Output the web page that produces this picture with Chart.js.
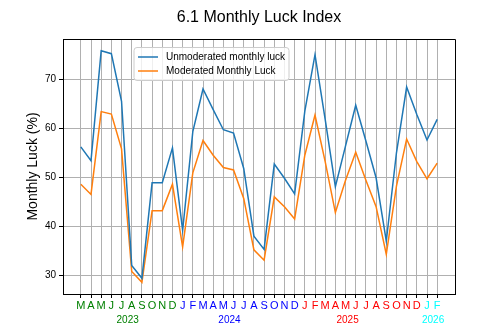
<!DOCTYPE html>
<html>
<head>
<meta charset="utf-8">
<script src="https://cdn.jsdelivr.net/npm/chart.js@4.4.1/dist/chart.umd.min.js"></script>
<style>
  html, body { margin: 0; padding: 0; background: #fff; }
</style>
</head>
<body>
<canvas id="luckChart" width="504" height="336"></canvas>
<script>
// Month initials, Mar 2023 .. Feb 2026
const monthLetters = ['M', 'A', 'M', 'J', 'J', 'A', 'S', 'O', 'N', 'D',
  'J', 'F', 'M', 'A', 'M', 'J', 'J', 'A', 'S', 'O', 'N', 'D',
  'J', 'F', 'M', 'A', 'M', 'J', 'J', 'A', 'S', 'O', 'N', 'D',
  'J', 'F'];
const yearNames = ['2023', '2024', '2025', '2026'];
const yearMonthCounts = [10, 12, 12, 2];
const yearColors = ['#008000', '#0000ff', '#ff0000', '#00ffff'];
// month index under which each year caption sits
const yearLabelAt = [4.6, 14.6, 26.2, 34.6];

const unmoderated = [56.2, 53.4, 75.8, 75.2, 65.5, 32.0, 29.4, 48.9, 48.9, 56.0,
  39.2, 59.3, 68.0, 63.8, 59.7, 59.0, 51.8, 38.0, 35.3, 52.7, 49.8, 46.6,
  63.5, 75.0, 61.8, 48.1, 56.4, 64.7, 57.4, 49.9, 37.0, 55.0, 68.4, 62.8,
  57.6, 61.8];
const moderated = [48.6, 46.5, 63.4, 62.9, 55.8, 30.8, 28.6, 43.2, 43.2, 48.6,
  35.8, 50.9, 57.5, 54.5, 52.0, 51.5, 45.7, 35.2, 33.1, 46.0, 44.0, 41.5,
  54.5, 62.7, 53.2, 42.8, 49.4, 55.1, 49.4, 44.0, 34.3, 48.2, 57.8, 53.2,
  49.7, 52.9];

const yTicks = [30, 40, 50, 60, 70];

const monthColors = [];
yearMonthCounts.forEach((n, k) => {
  for (let i = 0; i < n; i++) monthColors.push(yearColors[k]);
});

const FONT = '"Liberation Sans", Arial, Helvetica, sans-serif';
Chart.defaults.font.family = FONT;
Chart.defaults.color = '#000';

// closes the frame on top and right, like a boxed axes
const framePlugin = {
  id: 'frame',
  afterDraw(chart) {
    const { ctx, chartArea: a } = chart;
    ctx.save();
    ctx.strokeStyle = '#000';
    ctx.lineWidth = 1;
    ctx.beginPath();
    ctx.moveTo(a.left, a.top + 0.5);
    ctx.lineTo(a.right + 0.5, a.top + 0.5);
    ctx.lineTo(a.right + 0.5, a.bottom);
    ctx.stroke();
    ctx.restore();
  }
};

// year captions under the month letters
const yearPlugin = {
  id: 'years',
  afterDraw(chart) {
    const { ctx } = chart;
    const xs = chart.scales.x;
    ctx.save();
    ctx.font = '10px ' + FONT;
    ctx.textAlign = 'center';
    ctx.textBaseline = 'middle';
    yearNames.forEach((name, k) => {
      ctx.fillStyle = yearColors[k];
      ctx.fillText(name, xs.getPixelForValue(yearLabelAt[k]), 320.5);
    });
    ctx.restore();
  }
};

// boxed legend inside the plot
const boxLegend = {
  id: 'boxLegend',
  afterDraw(chart) {
    const { ctx, chartArea: a } = chart;
    const x = a.left + 71, y = a.top + 8.5, w = 155, h = 33;
    ctx.save();
    ctx.beginPath();
    ctx.roundRect(x, y, w, h, 3);
    ctx.fillStyle = 'rgba(255,255,255,0.8)';
    ctx.fill();
    ctx.strokeStyle = '#cccccc';
    ctx.lineWidth = 1;
    ctx.stroke();
    ctx.font = '10px ' + FONT;
    ctx.textBaseline = 'middle';
    chart.data.datasets.forEach((ds, i) => {
      const ly = y + 9.5 + i * 14;
      ctx.strokeStyle = ds.borderColor;
      ctx.lineWidth = 1.5;
      ctx.beginPath();
      ctx.moveTo(x + 4, ly);
      ctx.lineTo(x + 24, ly);
      ctx.stroke();
      ctx.fillStyle = '#000';
      ctx.fillText(ds.label, x + 32, ly);
    });
    ctx.restore();
  }
};

const gridStyle = { color: '#b0b0b0', lineWidth: 1, tickColor: '#000', tickLength: 4 };
const borderStyle = { color: '#000', width: 1 };

new Chart(document.getElementById('luckChart'), {
  type: 'line',
  data: {
    datasets: [
      {
        label: 'Unmoderated monthly luck',
        data: unmoderated.map((v, i) => ({ x: i, y: v })),
        borderColor: '#1f77b4',
        borderWidth: 1.5,
        pointRadius: 0,
        tension: 0
      },
      {
        label: 'Moderated Monthly Luck',
        data: moderated.map((v, i) => ({ x: i, y: v })),
        borderColor: '#ff7f0e',
        borderWidth: 1.5,
        pointRadius: 0,
        tension: 0
      }
    ]
  },
  options: {
    responsive: false,
    animation: false,
    devicePixelRatio: 1,
    // left padding keeps the title centred over the plot
    layout: { padding: { left: 14, right: 0, top: 0, bottom: 0 } },
    plugins: {
      legend: { display: false },
      tooltip: { enabled: false },
      title: {
        display: true,
        text: '6.1 Monthly Luck Index',
        color: '#000',
        font: { size: 16, weight: 'normal' },
        padding: { top: 8, bottom: 11.8 }
      }
    },
    scales: {
      x: {
        type: 'linear',
        min: -1.75,
        max: 36.75,
        afterBuildTicks: s => { s.ticks = monthLetters.map((_, i) => ({ value: i })); },
        afterFit: s => { s.height = 42; },
        ticks: {
          autoSkip: false,
          maxRotation: 0,
          padding: 1,
          font: { size: 11 },
          color: c => monthColors[c.index],
          callback: v => monthLetters[v]
        },
        grid: gridStyle,
        border: borderStyle
      },
      y: {
        min: 26.2,
        max: 78.2,
        afterBuildTicks: s => { s.ticks = yTicks.map(v => ({ value: v })); },
        afterFit: s => { s.width = 49; },
        ticks: { padding: 3, font: { size: 10 }, color: '#000' },
        grid: gridStyle,
        border: borderStyle,
        title: {
          display: true,
          text: 'Monthly Luck (%)',
          color: '#000',
          font: { size: 14 },
          padding: { top: 11, bottom: 0 }
        }
      },
      // empty right margin
      yRight: {
        position: 'right',
        afterFit: s => { s.width = 49; },
        grid: { display: false },
        border: { display: false },
        ticks: { display: false }
      }
    }
  },
  plugins: [framePlugin, yearPlugin, boxLegend]
});
</script>
</body>
</html>
